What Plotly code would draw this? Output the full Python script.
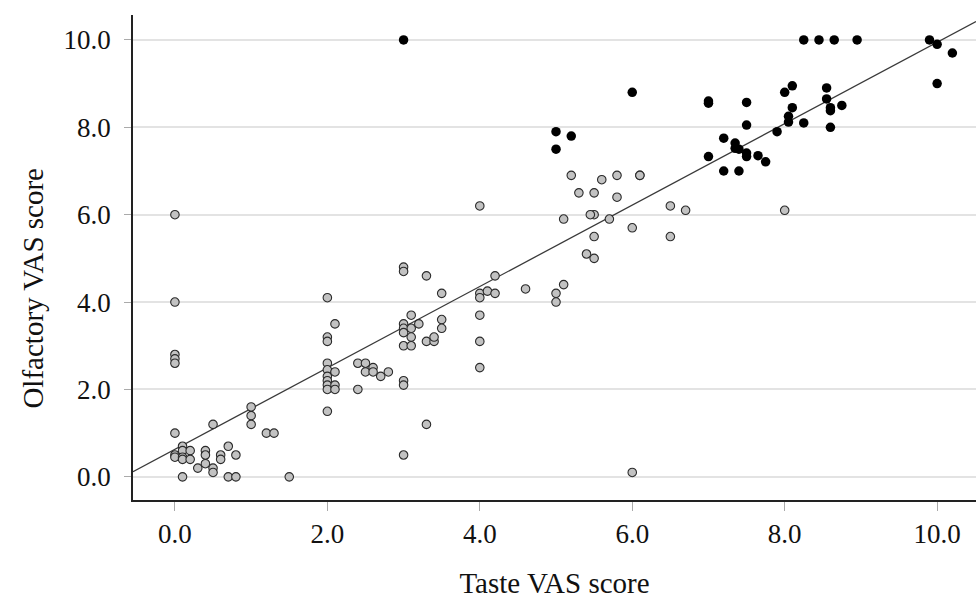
import plotly.graph_objects as go

# Gray (open) points
gray_x = [0.0, 0.0, 0.0, 0.0, 0.0, 0.0, 0.0, 0.0,
          0.1, 0.1, 0.1, 0.1, 0.1,
          0.2, 0.2, 0.3, 0.4, 0.4, 0.4,
          0.5, 0.5, 0.5, 0.6, 0.6, 0.7, 0.7, 0.8, 0.8,
          1.0, 1.0, 1.0, 1.2, 1.3, 1.5,
          2.0, 2.0, 2.0, 2.0, 2.0, 2.0, 2.0, 2.0, 2.0, 2.0,
          2.1, 2.1, 2.1, 2.1,
          2.4, 2.4, 2.5, 2.5, 2.6, 2.6, 2.7, 2.8,
          3.0, 3.0, 3.0, 3.0, 3.0, 3.0, 3.0, 3.0, 3.0,
          3.1, 3.1, 3.1, 3.1, 3.2, 3.3, 3.3, 3.3, 3.4, 3.4,
          3.5, 3.5, 3.5,
          4.0, 4.0, 4.0, 4.0, 4.0, 4.0, 4.1, 4.2, 4.2, 4.6,
          5.0, 5.0, 5.1, 5.1, 5.2, 5.3, 5.4, 5.5, 5.5, 5.5, 5.5, 5.45,
          5.6, 5.7, 5.8, 5.8, 6.0, 6.0, 6.1, 6.1, 6.5, 6.5, 6.7, 8.0]
gray_y = [6.0, 4.0, 2.8, 2.7, 2.6, 1.0, 0.5, 0.45,
          0.7, 0.6, 0.45, 0.4, 0.0,
          0.6, 0.4, 0.2, 0.6, 0.5, 0.3,
          1.2, 0.2, 0.1, 0.5, 0.4, 0.7, 0.0, 0.5, 0.0,
          1.6, 1.4, 1.2, 1.0, 1.0, 0.0,
          4.1, 3.2, 3.1, 2.6, 2.45, 2.3, 2.2, 2.1, 2.0, 1.5,
          3.5, 2.4, 2.1, 2.0,
          2.6, 2.0, 2.6, 2.4, 2.5, 2.4, 2.3, 2.4,
          4.8, 4.7, 3.5, 3.4, 3.3, 3.0, 2.2, 2.1, 0.5,
          3.7, 3.4, 3.2, 3.0, 3.5, 4.6, 3.1, 1.2, 3.1, 3.2,
          4.2, 3.6, 3.4,
          6.2, 4.2, 4.1, 3.7, 3.1, 2.5, 4.25, 4.6, 4.2, 4.3,
          4.2, 4.0, 5.9, 4.4, 6.9, 6.5, 5.1, 6.5, 6.0, 5.5, 5.0, 6.0,
          6.8, 5.9, 6.9, 6.4, 5.7, 0.1, 6.9, 6.9, 6.2, 5.5, 6.1, 6.1]

# Black (filled) points
black_x = [3.0, 5.0, 5.0, 5.2, 6.0, 7.0, 7.0, 7.0, 7.2, 7.2,
           7.35, 7.35, 7.4, 7.4, 7.5, 7.5, 7.5, 7.5, 7.65, 7.75,
           7.9, 8.0, 8.05, 8.05, 8.1, 8.1, 8.25, 8.25, 8.45, 8.65,
           8.95, 8.55, 8.55, 8.6, 8.6, 8.6, 8.75, 9.9, 10.0, 10.0, 10.2]
black_y = [10.0, 7.9, 7.5, 7.8, 8.8, 8.6, 8.55, 7.33, 7.75, 7.0,
           7.64, 7.52, 7.5, 7.0, 8.57, 8.05, 7.41, 7.33, 7.35, 7.21,
           7.9, 8.8, 8.25, 8.12, 8.95, 8.45, 8.1, 10.0, 10.0, 10.0,
           10.0, 8.9, 8.65, 8.45, 8.38, 8.0, 8.5, 10.0, 9.9, 9.0, 9.7]

# Fit line
fit_intercept = 0.63
fit_slope = 0.9315

x_range = [-0.55, 10.51]
y_range = [-0.53, 10.57]
tick_vals = [0, 2, 4, 6, 8, 10]
tick_text = ["0.0", "2.0", "4.0", "6.0", "8.0", "10.0"]

FONT = "Liberation Serif, Times New Roman, serif"

fig = go.Figure()
fig.add_trace(go.Scatter(
    x=x_range, y=[fit_intercept + fit_slope * v for v in x_range],
    mode="lines", line=dict(color="#3a3a3a", width=1.3),
    hoverinfo="skip", showlegend=False, cliponaxis=True))
fig.add_trace(go.Scatter(
    x=gray_x, y=gray_y, mode="markers",
    marker=dict(size=8.5, color="#c2c2c2", line=dict(color="#2a2a2a", width=1.1)),
    showlegend=False))
fig.add_trace(go.Scatter(
    x=black_x, y=black_y, mode="markers",
    marker=dict(size=9.5, color="#000000", line=dict(width=0)),
    showlegend=False))

fig.update_layout(
    width=976, height=599,
    margin=dict(l=133, r=0, t=15, b=99),
    plot_bgcolor="white", paper_bgcolor="white",
    font=dict(family=FONT, size=27, color="#111"),
    xaxis=dict(range=x_range, tickvals=tick_vals, ticktext=tick_text,
               showgrid=False, zeroline=False,
               showline=True, linecolor="#222", linewidth=1.5,
               ticks="outside", ticklen=9, tickcolor="#aaaaaa", tickwidth=1,
               tickfont=dict(family=FONT, size=27, color="#111"),
               title=dict(text="Taste VAS score", standoff=26,
                          font=dict(family=FONT, size=29, color="#111"))),
    yaxis=dict(range=y_range, tickvals=tick_vals, ticktext=tick_text,
               showgrid=True, gridcolor="#e3e3e3", gridwidth=1.5,
               zeroline=False,
               showline=True, linecolor="#222", linewidth=1.5,
               ticks="outside", ticklen=7, tickcolor="#aaaaaa", tickwidth=1,
               ticklabelstandoff=8,
               tickfont=dict(family=FONT, size=27, color="#111"),
               title=dict(text="")),
    annotations=[dict(text="Olfactory VAS score", textangle=-90,
                      xref="paper", yref="paper", x=-0.118, y=0.437,
                      xanchor="center", yanchor="middle", showarrow=False,
                      font=dict(family=FONT, size=29, color="#111"))],
)

fig.write_html("out.html")
